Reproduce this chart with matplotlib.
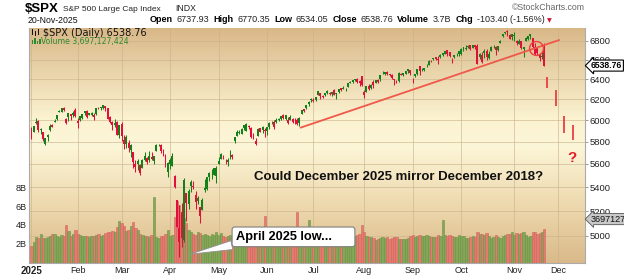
import matplotlib
matplotlib.use('Agg')
import matplotlib.pyplot as plt
import numpy as np
from matplotlib.colors import LinearSegmentedColormap
from matplotlib import transforms
from matplotlib.patches import Rectangle
from matplotlib.ticker import FixedLocator, NullLocator, FuncFormatter

plt.rcParams['font.family'] = ['Liberation Sans', 'DejaVu Sans']

# ---------------- data ----------------
month_labels = ['2025', 'Feb', 'Mar', 'Apr', 'May', 'Jun', 'Jul', 'Aug', 'Sep', 'Oct', 'Nov', 'Dec']
month_start_idx = [0, 20, 39, 60, 81, 102, 122, 144, 165, 186, 209, 228]
price_ticks = [5000, 5200, 5400, 5600, 5800, 6000, 6200, 6400, 6600, 6800]
vol_ticks = [2e9, 4e9, 6e9, 8e9]
vol_tick_labels = ['2B', '4B', '6B', '8B']
prev_close_2024 = 5881.63

opens = [
    5903, 5891, 5982, 5993, 5910, 5890, 5782, 5859, 5905, 5959, 5986, 6015, 6081, 6076, 6121, 5969, 6027, 6057, 6050, 6096,
    5969, 5998, 6020, 6073, 6083, 6051, 6049, 6026, 6060, 6116, 6121, 6117, 6134, 6114, 6027, 5983, 5970, 5981, 5857,
    5968, 5812, 5781, 5785, 5726, 5705, 5603, 5624, 5594, 5563, 5635, 5655, 5632, 5646, 5630, 5718, 5775, 5772, 5701, 5679, 5527,
    5597, 5581, 5492, 5292, 4953, 5193, 4966, 5353, 5256, 5441, 5411, 5335, 5306, 5232, 5207, 5395, 5381, 5489, 5529, 5508, 5499,
    5625, 5645, 5655, 5605, 5617, 5663, 5680, 5807, 5854, 5884, 5869, 5929, 5902, 5944, 5922, 5841, 5782, 5855, 5925, 5939, 5903,
    5896, 5939, 5978, 5985, 5987, 6005, 6010, 6049, 6010, 5997, 6004, 6012, 5987, 6004, 5970, 6061, 6104, 6112, 6151, 6193,
    6188, 6193, 6247, 6259, 6235, 6245, 6266, 6256, 6255, 6296, 6254, 6270, 6307, 6311, 6307, 6326, 6368, 6370, 6397, 6406, 6380, 6428,
    6271, 6271, 6336, 6316, 6375, 6359, 6389, 6398, 6460, 6453, 6478, 6445, 6447, 6406, 6384, 6378, 6457, 6438, 6456, 6486, 6489,
    6408, 6437, 6456, 6530, 6498, 6494, 6539, 6546, 6590, 6603, 6624, 6611, 6644, 6644, 6657, 6696, 6676, 6604, 6627, 6661, 6656,
    6663, 6731, 6722, 6735, 6749, 6723, 6753, 6740, 6625, 6579, 6693, 6693, 6617, 6690, 6736, 6734, 6698, 6777, 6847, 6886, 6900, 6863, 6873,
    6866, 6795, 6764, 6795, 6707, 6799, 6815, 6869, 6827, 6664, 6722, 6646, 6626, 6737.93,
]
highs = [
    5935, 5949, 6021, 6000, 5927, 5890, 5837, 5871, 5960, 5964, 6014, 6051, 6100, 6119, 6129, 6018, 6070, 6063, 6086, 6121,
    6022, 6042, 6062, 6084, 6101, 6073, 6076, 6064, 6116, 6127, 6129, 6147, 6134, 6115, 6043, 5992, 6010, 5994, 5959,
    5986, 5865, 5860, 5812, 5783, 5706, 5636, 5642, 5597, 5645, 5704, 5665, 5715, 5711, 5670, 5775, 5783, 5782, 5732, 5685, 5616,
    5650, 5696, 5500, 5292, 5247, 5267, 5481, 5353, 5381, 5459, 5450, 5367, 5328, 5232, 5309, 5469, 5484, 5528, 5554, 5563, 5581,
    5659, 5700, 5684, 5641, 5655, 5721, 5691, 5847, 5907, 5906, 5925, 5959, 5969, 5954, 5939, 5878, 5833, 5924, 5929, 5943, 5922,
    5937, 5981, 5991, 5999, 6016, 6022, 6043, 6060, 6046, 6027, 6051, 6024, 6019, 6019, 6028, 6101, 6109, 6146, 6187, 6215,
    6211, 6227, 6284, 6263, 6243, 6265, 6290, 6271, 6270, 6302, 6265, 6299, 6315, 6336, 6316, 6360, 6381, 6390, 6402, 6409, 6390, 6428,
    6288, 6330, 6347, 6350, 6395, 6395, 6400, 6446, 6481, 6474, 6481, 6454, 6456, 6406, 6393, 6478, 6466, 6467, 6484, 6508, 6490,
    6416, 6453, 6502, 6533, 6509, 6513, 6555, 6592, 6601, 6616, 6626, 6639, 6657, 6671, 6695, 6698, 6676, 6620, 6649, 6670, 6689,
    6718, 6733, 6750, 6755, 6752, 6755, 6755, 6764, 6668, 6680, 6709, 6715, 6689, 6744, 6752, 6742, 6745, 6808, 6876, 6899, 6920, 6871, 6875,
    6889, 6807, 6822, 6802, 6729, 6838, 6849, 6869, 6827, 6775, 6736, 6674, 6683, 6770.35,
]
lows = [
    5829, 5888, 5960, 5890, 5874, 5809, 5773, 5803, 5895, 5935, 5979, 6006, 6076, 6074, 6088, 5962, 5994, 6001, 6027, 6030,
    5923, 5991, 6007, 6052, 6020, 6049, 6044, 6003, 6051, 6104, 6100, 6111, 6084, 6009, 5977, 5908, 5932, 5858, 5837,
    5810, 5732, 5742, 5711, 5666, 5565, 5528, 5546, 5505, 5563, 5628, 5597, 5622, 5632, 5603, 5718, 5759, 5698, 5670, 5572, 5489,
    5558, 5578, 5391, 5069, 4835, 4910, 4950, 5116, 5220, 5358, 5386, 5220, 5255, 5101, 5207, 5356, 5372, 5456, 5468, 5506, 5434,
    5597, 5644, 5645, 5598, 5586, 5640, 5647, 5787, 5854, 5868, 5867, 5907, 5895, 5915, 5830, 5826, 5767, 5855, 5887, 5876, 5844,
    5861, 5921, 5966, 5921, 5978, 5994, 6002, 6014, 6003, 5964, 6004, 5973, 5966, 5954, 5943, 6058, 6080, 6103, 6132, 6177,
    6173, 6188, 6241, 6201, 6216, 6229, 6251, 6245, 6237, 6242, 6201, 6267, 6285, 6304, 6281, 6317, 6360, 6364, 6380, 6365, 6334, 6327,
    6213, 6271, 6292, 6306, 6312, 6359, 6361, 6385, 6453, 6441, 6442, 6436, 6401, 6343, 6360, 6375, 6438, 6437, 6456, 6467, 6444,
    6360, 6419, 6445, 6443, 6480, 6481, 6522, 6546, 6577, 6594, 6598, 6551, 6617, 6641, 6656, 6642, 6625, 6570, 6615, 6643, 6643,
    6653, 6693, 6705, 6722, 6699, 6718, 6713, 6550, 6612, 6569, 6615, 6600, 6603, 6689, 6718, 6653, 6693, 6773, 6843, 6867, 6855, 6822, 6809,
    6797, 6753, 6764, 6707, 6631, 6792, 6809, 6818, 6724, 6646, 6650, 6581, 6607, 6534.05,
]
closes = [
    5868.55, 5942.47, 5975.38, 5909.03, 5918.25, 5827.04, 5836.22, 5842.91, 5949.91, 5937.34, 5996.66, 6049.24, 6086.37, 6118.71, 6101.24, 6012.28, 6067.70, 6039.31, 6071.17, 6040.53,
    5994.57, 6037.88, 6061.48, 6083.57, 6025.99, 6066.44, 6068.50, 6051.97, 6115.07, 6114.63, 6129.58, 6144.15, 6117.52, 6013.13, 5983.25, 5955.25, 5956.06, 5861.57, 5954.50,
    5849.72, 5778.15, 5842.63, 5738.52, 5770.20, 5614.56, 5572.07, 5599.30, 5521.52, 5638.94, 5675.12, 5614.66, 5675.29, 5662.89, 5667.56, 5767.57, 5776.65, 5712.20, 5693.31, 5580.94, 5611.85,
    5633.07, 5670.97, 5396.52, 5074.08, 5062.25, 4982.77, 5456.90, 5268.05, 5363.36, 5405.97, 5396.63, 5275.70, 5282.70, 5158.20, 5287.76, 5375.86, 5484.77, 5525.21, 5528.75, 5560.83, 5569.06,
    5604.14, 5686.67, 5650.38, 5606.91, 5631.28, 5663.94, 5659.91, 5844.19, 5886.55, 5892.58, 5916.93, 5958.38, 5963.60, 5940.46, 5844.61, 5842.01, 5802.82, 5921.54, 5888.55, 5912.17, 5911.69,
    5935.94, 5970.37, 5970.81, 5939.30, 6000.36, 6005.88, 6038.81, 6022.24, 6045.26, 5976.97, 6033.11, 5982.72, 5980.87, 5967.84, 6025.17, 6092.18, 6092.16, 6141.02, 6173.07, 6204.95,
    6198.01, 6227.42, 6279.35, 6229.98, 6225.52, 6263.26, 6280.46, 6259.75, 6268.56, 6243.76, 6263.70, 6297.36, 6296.79, 6305.60, 6309.62, 6358.91, 6363.35, 6388.64, 6389.77, 6370.86, 6362.90, 6339.39,
    6238.01, 6329.94, 6299.19, 6345.06, 6340.00, 6389.45, 6373.45, 6445.76, 6466.58, 6468.54, 6449.80, 6449.15, 6411.37, 6395.78, 6370.17, 6466.91, 6439.32, 6465.94, 6481.40, 6501.86, 6460.26,
    6415.54, 6448.26, 6502.08, 6481.50, 6495.15, 6512.61, 6532.04, 6587.47, 6584.29, 6615.28, 6606.76, 6600.35, 6631.96, 6664.36, 6693.75, 6656.92, 6637.97, 6604.72, 6643.70, 6661.21, 6688.46,
    6711.20, 6715.35, 6715.79, 6740.28, 6714.59, 6753.72, 6735.11, 6552.51, 6654.72, 6644.31, 6671.06, 6629.07, 6664.01, 6735.13, 6735.35, 6699.40, 6738.44, 6791.69, 6875.16, 6890.89, 6890.59, 6822.34, 6840.20,
    6851.97, 6771.55, 6796.29, 6720.32, 6728.80, 6832.43, 6846.61, 6850.92, 6737.49, 6734.11, 6672.41, 6617.32, 6642.16, 6538.76,
]
volumes_b = [
    1.8, 2.3, 2.8, 2.7, 3.1, 2.7, 2.7, 2.8, 2.9, 3.1, 3.1, 2.9, 2.8, 3.0, 2.9, 4.1, 3.5, 2.9, 3.1, 3.6,
    3.1, 3.0, 2.9, 2.9, 2.9, 2.8, 2.9, 2.9, 3.0, 3.1, 2.9, 3.0, 3.2, 3.4, 3.3, 3.5, 3.4, 3.9, 4.5,
    4.3, 4.0, 3.5, 3.6, 4.0, 4.4, 3.8, 3.6, 3.1, 3.0, 2.9, 2.9, 2.8, 3.0, 7.1, 2.8, 2.7, 2.9, 2.9, 3.1, 3.6,
    2.9, 3.0, 5.0, 6.7, 6.3, 5.2, 4.9, 4.3, 3.6, 3.4, 3.1, 3.0, 3.3, 3.2, 3.0, 3.1, 3.0, 2.9, 3.1, 3.0, 3.4,
    3.0, 3.2, 2.9, 2.8, 2.9, 3.0, 2.8, 3.6, 3.1, 3.0, 2.9, 3.1, 2.8, 2.9, 3.0, 2.8, 3.0, 2.9, 3.0, 3.1, 5.1,
    2.9, 2.8, 2.8, 2.9, 2.7, 2.7, 2.8, 2.8, 2.7, 2.9, 2.8, 2.8, 2.9, 5.5, 3.0, 3.0, 2.8, 2.9, 4.6, 3.0,
    2.9, 2.8, 2.0, 2.8, 2.9, 2.8, 2.8, 2.7, 2.8, 2.8, 2.9, 2.9, 3.0, 2.8, 3.0, 2.9, 2.9, 2.8, 2.9, 3.0, 3.1, 4.1,
    3.3, 2.9, 2.8, 2.8, 2.7, 2.5, 2.6, 2.7, 2.8, 2.7, 2.8, 2.6, 2.7, 2.8, 2.8, 2.6, 2.6, 2.6, 2.6, 2.7, 2.9,
    3.0, 2.8, 2.9, 3.0, 2.9, 2.9, 3.0, 2.9, 2.8, 2.8, 2.8, 3.0, 2.9, 4.6, 3.0, 2.9, 3.0, 2.9, 2.8, 2.8, 3.0,
    2.9, 2.9, 2.7, 2.7, 2.8, 2.9, 2.8, 3.4, 3.1, 3.1, 3.0, 3.2, 2.9, 2.7, 2.8, 3.0, 2.8, 2.7, 2.9, 3.0, 3.1, 3.1, 3.3,
    3.0, 3.2, 3.1, 3.2, 3.3, 3.0, 2.8, 2.9, 3.3, 3.4, 3.1, 3.2, 3.3, 3.697,
]

# Dec-2018 style projection bars (trading-day index, high, low)
proj_idx = [223.3, 227.1, 230.5, 234.6]
proj_high = [6422, 6292, 6043, 5955]
proj_low = [6312, 6139, 5877, 5815]

# rising trendline (index, price)
trend_idx = [116.5, 228.4]
trend_price = [5930, 6807]
circle_idx, circle_price = 218.4, 6719

assert len(opens) == len(highs) == len(lows) == len(closes) == len(volumes_b) == 223

# ---------------- figure ----------------
W, H = 624, 278
fig = plt.figure(figsize=(W / 100, H / 100), dpi=100)
fig.patch.set_facecolor('white')
pos = [29 / W, 1 - 263 / H, (585 - 29) / W, (263 - 28) / H]

bg = fig.add_axes(pos, zorder=-1)
grad_cmap = LinearSegmentedColormap.from_list('tan', [
    (0.0, '#d9b98a'), (0.22, '#ecd6aa'), (0.5, '#fcf6d8'), (0.62, '#fbf2d0'), (1.0, '#d9b888')])
bg.imshow(np.linspace(0, 1, 256).reshape(-1, 1), cmap=grad_cmap, aspect='auto',
          extent=[0, 1, 0, 1], origin='lower', interpolation='bilinear')
bg.set_axis_off()

ax = fig.add_axes(pos)
ax.patch.set_visible(False)

idx = np.arange(len(closes))
o = np.array(opens, float)
h = np.array(highs, float)
l = np.array(lows, float)
c = np.array(closes, float)
prev = np.concatenate([[prev_close_2024], c[:-1]])
up = c >= prev

# volume (overlay, linear scale mapped to axes height)
vol_top = 25.4e9
vol_tr = transforms.blended_transform_factory(
    ax.transData, transforms.Affine2D().scale(1, 1 / vol_top) + ax.transAxes)
vol = np.array(volumes_b) * 1e9
vcol = np.where(up, '#83a658', '#e47a70')
vedge = np.where(up, '#6f9445', '#d2665c')
ax.bar(idx, vol, width=1.0, bottom=0, color=vcol, edgecolor=vedge, linewidth=0.4,
       transform=vol_tr, zorder=1)

# candles
ccol = np.where(up, '#13801a', '#e0103a')
ax.vlines(idx, l, h, colors=ccol, linewidth=0.75, zorder=3)
ax.bar(idx, np.maximum(np.abs(c - o), 1.5), bottom=np.minimum(o, c), width=0.85,
       color=ccol, linewidth=0, zorder=4)

# projection bars
ax.vlines(proj_idx, proj_low, proj_high, colors='#e83038', linewidth=1.2, zorder=4)
# trendline and circle
ax.plot(trend_idx, trend_price, color='#f0584a', linewidth=1.3, zorder=5, solid_capstyle='round')
ax.plot([circle_idx], [circle_price], marker='o', markersize=10, markerfacecolor='none',
        markeredgecolor='#ee4040', markeredgewidth=1.0, zorder=6)

# axes setup
ax.set_yscale('log')
ax.set_ylim(4791.5, 6937.4)
ax.set_xlim(-1.08, 239.6)
ax.yaxis.set_major_locator(FixedLocator(price_ticks))
ax.yaxis.set_minor_locator(NullLocator())
ax.yaxis.set_major_formatter(FuncFormatter(lambda v, p: f'{v:.0f}'))
ax.yaxis.tick_right()
ax.tick_params(axis='y', which='both', length=2, width=0.6, color='#888888', pad=1.5,
               labelsize=6.8, labelcolor='#222222')
ax.set_xticks(month_start_idx)
ax.set_xticklabels(month_labels)
ax.tick_params(axis='x', length=0, pad=2.5, labelsize=6.5, labelcolor='#222222')
ax.get_xticklabels()[0].set_fontweight('bold')
ax.get_xticklabels()[0].set_fontsize(7)
ax.set_axisbelow(True)
ax.grid(True, which='major', color='#c9b28a', linewidth=0.6, alpha=0.7)
for s in ['left', 'right', 'bottom']:
    ax.spines[s].set_color('#aaaaaa')
    ax.spines[s].set_linewidth(0.8)
ax.spines['top'].set_visible(False)

# volume tick labels on the left
lbl_tr = transforms.blended_transform_factory(ax.transAxes, vol_tr)
for v, t in zip(vol_ticks, vol_tick_labels):
    ax.text(-0.004, v, t, transform=lbl_tr, ha='right', va='center', fontsize=6.5,
            color='#222222')

# value tags
tag_tr = transforms.blended_transform_factory(ax.transAxes, ax.transData)
ax.text(1.011, closes[-1], f'{closes[-1]:.2f}', transform=tag_tr, ha='left', va='center',
        fontsize=6.2, fontweight='bold', color='black', clip_on=False,
        bbox=dict(boxstyle='larrow,pad=0.12', fc='white', ec='black', lw=0.8))
vtag_tr = transforms.blended_transform_factory(ax.transAxes, vol_tr)
ax.annotate('3697127', xy=(1.011, volumes_b[-1] * 1e9), xycoords=vtag_tr,
            xytext=(0, 7), textcoords='offset points', ha='left', va='center',
            fontsize=6.5, color='#111111', annotation_clip=False,
            bbox=dict(boxstyle='larrow,pad=0.12', fc='#c8c8c8', ec='#555555', lw=0.6))

# annotations
ax.text(96.3, 5488, 'Could December 2025 mirror December 2018?', ha='left', va='center',
        fontsize=9.5, fontweight='bold', color='#111111', zorder=7)
ax.text(233.9, 5653, '?', ha='center', va='center', fontsize=11, fontweight='bold',
        color='#e41e26', zorder=7)
ax.annotate('April 2025 low...\u2003\u2002', xy=(68.6, 4858), xytext=(88.5, 4993),
            ha='left', va='center', fontsize=9.2, fontweight='bold', color='black', zorder=8,
            bbox=dict(boxstyle='round,pad=0.3,rounding_size=0.2', fc='white', ec='#808080', lw=0.8),
            arrowprops=dict(arrowstyle='wedge,tail_width=0.7,shrink_factor=0.5', fc='white',
                            ec='#909090', lw=0.6, shrinkA=0, shrinkB=0,
                            relpos=(0.15, 0.2)))

# ---------------- header ----------------
def fy(py):
    return 1 - py / H

fig.text(25 / W, fy(12.3), '$SPX', fontsize=9.5, fontweight='bold', color='black', va='baseline')
fig.text(62.7 / W, fy(11), 'S&P 500 Large Cap Index', fontsize=6.0, color='#222222', va='baseline')
fig.text(175.7 / W, fy(11), 'INDX', fontsize=6.3, color='#222222', va='baseline')
fig.text(28 / W, fy(23), '20-Nov-2025', fontsize=6.3, color='#111111', va='baseline')
fig.text(585 / W, fy(10.5), '\u00a9StockCharts.com', fontsize=6.3, color='#666666',
         va='baseline', ha='right')

pieces = [('Open', True), ('6737.93', False), ('High', True), ('6770.35', False),
          ('Low', True), ('6534.05', False), ('Close', True), ('6538.76', False),
          ('Volume', True), ('3.7B', False), ('Chg', True), ('-103.40 (-1.56%)', False)]
prev_t = None
for txt, bold in pieces:
    kw = dict(fontsize=6.5, fontweight='bold' if bold else 'normal',
              color='black' if bold else '#222222', va='bottom', ha='left',
              annotation_clip=False)
    if prev_t is None:
        prev_t = ax.annotate(txt, xy=(150 / W, fy(24.5)), xycoords='figure fraction', **kw)
    else:
        prev_t = ax.annotate(txt, xy=(1, 0), xycoords=prev_t, xytext=(2.8, 0),
                             textcoords='offset points', **kw)
ax.annotate('\u25bc', xy=(1, 0), xycoords=prev_t, xytext=(1.5, 0.8), textcoords='offset points',
            fontsize=4.5, color='#d01030', va='bottom', ha='left', annotation_clip=False,
            family='DejaVu Sans')

# legend inside plot
ax.text(43 / W, fy(35.5), '$SPX (Daily) 6538.76', fontsize=7, color='#111111',
        family='DejaVu Sans', va='baseline', transform=fig.transFigure)
ax.text(41 / W, fy(44), 'Volume 3,697,127,424', fontsize=5.6, color='#2e8a2e',
        family='DejaVu Sans', va='baseline', transform=fig.transFigure)
# small legend icons
for dx, y0, hh in [(31.5, 29, 6), (34.5, 30.5, 5), (37.5, 28.5, 6)]:
    fig.add_artist(Rectangle((dx / W, fy(y0 + hh)), 1.6 / W, hh / H, transform=fig.transFigure,
                             color='#111111', lw=0))
for dx, hh in [(31.5, 4), (34, 6), (36.5, 3), (39, 5)]:
    fig.add_artist(Rectangle((dx / W, fy(44)), 1.8 / W, hh / H, transform=fig.transFigure,
                             color='#2e8a2e', lw=0))

fig.savefig('out.png', dpi=100)
